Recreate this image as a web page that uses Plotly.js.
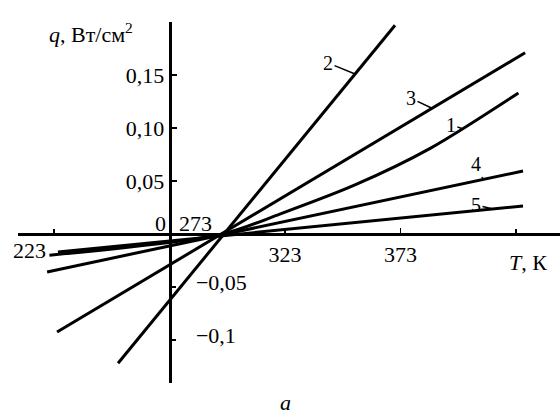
<!DOCTYPE html>
<html><head><meta charset="utf-8">
<script src="https://cdn.plot.ly/plotly-3.0.1.min.js"></script>
<style>body{margin:0;background:#fff}#chart{width:560px;height:417px}</style>
</head><body><div id="chart"></div>
<script>
// ---- data (T in K, q in W/cm^2) ----
const curveLabels = ['1', '2', '3', '4', '5'];
const line1T = [221, 296, 321, 353, 386, 424];
const line1Q = [-0.020, 0, 0.019, 0.046, 0.081, 0.133];
const line2T = [250.7, 370.6];
const line2Q = [-0.122, 0.197];
const line3T = [224.3, 426.9];
const line3Q = [-0.0925, 0.171];
const line4T = [220.0, 426.0];
const line4Q = [-0.0358, 0.0594];
const line5T = [224.7, 426.0];
const line5Q = [-0.017, 0.0264];

const xLabelTickVals = [323, 373];
const xLabelTickText = ['323', '373'];
const xBareTickVals = [223, 423];
const yPosTickVals = [0.05, 0.10, 0.15];
const yPosTickText = ['0,05', '0,10', '0,15'];
const yNegTickVals = [-0.05, -0.1];
const yNegTickText = ['\u22120,05', '\u22120,1'];

// where curve-number leaders touch each curve (T values)
const labelTipT = [399.5, 353.3, 386.6, 408.7, 413.0];
const labelDX = [-11, -27, -21, -7, -17];
const labelDY = [-4, -11, -10, -15, -4];

const xRange = [207.4, 442.0];
const yRange = [-0.1406, 0.2];
const axisT = 273;

const series = [[line1T, line1Q], [line2T, line2Q], [line3T, line3Q], [line4T, line4Q], [line5T, line5Q]];

function interp(t, xs, ys) {
  for (let i = 0; i < xs.length - 1; i++) {
    if (t >= xs[i] && t <= xs[i + 1]) {
      return ys[i] + (ys[i + 1] - ys[i]) * (t - xs[i]) / (xs[i + 1] - xs[i]);
    }
  }
  return ys[ys.length - 1];
}

const FONT = 'Liberation Serif, Times New Roman, serif';
const tf = {family: FONT, size: 22, color: '#000'};

const traces = series.map((s, i) => ({
  x: s[0], y: s[1], type: 'scatter', mode: 'lines',
  line: {color: '#000', width: 3, shape: i === 0 ? 'spline' : 'linear', smoothing: 0.8},
  hoverinfo: 'skip', showlegend: false
}));
traces.push({x: [], y: [], yaxis: 'y2', type: 'scatter', mode: 'lines', showlegend: false, hoverinfo: 'skip'});
traces.push({x: [], y: [], xaxis: 'x2', type: 'scatter', mode: 'lines', showlegend: false, hoverinfo: 'skip'});

const yAxisPos = (axisT - xRange[0]) / (xRange[1] - xRange[0]);
const xAxisPos = (0 - yRange[0]) / (yRange[1] - yRange[0]);

const annotations = curveLabels.map((lab, i) => ({
  x: labelTipT[i], y: interp(labelTipT[i], series[i][0], series[i][1]),
  xref: 'x', yref: 'y', text: lab, showarrow: true, arrowhead: 0, arrowwidth: 1.5,
  arrowcolor: '#000', ax: labelDX[i], ay: labelDY[i], standoff: 0,
  font: {family: FONT, size: 20, color: '#000'}
}));
annotations.push(
  {x: 223, y: 0, xref: 'x', yref: 'y', text: '223', showarrow: false, xshift: -25, yshift: -17,
   xanchor: 'center', yanchor: 'middle', font: tf},
  {x: 273, y: 0, xref: 'x', yref: 'y', text: '273', showarrow: false, xshift: 26, yshift: 10,
   xanchor: 'center', yanchor: 'middle', font: tf},
  {x: 273, y: 0, xref: 'x', yref: 'y', text: '0', showarrow: false, xshift: -9, yshift: 10,
   xanchor: 'center', yanchor: 'middle', font: tf},
  {x: (47 - 18) / 542, y: (383 - 33) / 361, xref: 'paper', yref: 'paper', xanchor: 'left', yanchor: 'middle',
   text: '<i>q</i>, Вт/см<sup>2</sup>', showarrow: false, font: tf},
  {x: (528 - 18) / 542, y: (383 - 262) / 361, xref: 'paper', yref: 'paper', xanchor: 'center', yanchor: 'middle',
   text: '<i>T</i>, К', showarrow: false, font: tf},
  {x: (285 - 18) / 542, y: (383 - 402) / 361, xref: 'paper', yref: 'paper', xanchor: 'center', yanchor: 'middle',
   text: '<i>а</i>', showarrow: false, font: tf}
);

const layout = {
  width: 560, height: 417,
  margin: {l: 18, r: 0, t: 22, b: 34},
  paper_bgcolor: '#fff', plot_bgcolor: 'rgba(0,0,0,0)',
  showlegend: false, hovermode: false,
  font: tf,
  xaxis: {
    range: xRange, anchor: 'free', position: xAxisPos,
    showline: true, linewidth: 3, linecolor: '#000',
    ticks: 'inside', ticklen: 5, tickwidth: 1.5, tickcolor: '#000',
    tickmode: 'array', tickvals: xLabelTickVals, ticktext: xLabelTickText,
    showgrid: false, zeroline: false, tickfont: tf
  },
  xaxis2: {
    range: xRange, anchor: 'free', position: xAxisPos, overlaying: 'x',
    showline: false, showticklabels: false,
    ticks: 'inside', ticklen: 5, tickwidth: 1.5, tickcolor: '#000',
    tickmode: 'array', tickvals: xBareTickVals,
    showgrid: false, zeroline: false
  },
  yaxis: {
    range: yRange, anchor: 'free', position: yAxisPos, side: 'left',
    showline: true, linewidth: 3, linecolor: '#000',
    ticks: 'inside', ticklen: 5, tickwidth: 1.5, tickcolor: '#000',
    tickmode: 'array', tickvals: yPosTickVals, ticktext: yPosTickText,
    showgrid: false, zeroline: false, tickfont: tf
  },
  yaxis2: {
    range: yRange, anchor: 'free', position: yAxisPos, side: 'right', overlaying: 'y',
    showline: false,
    ticks: 'outside', ticklen: 5, tickwidth: 1.5, tickcolor: '#000',
    tickmode: 'array', tickvals: yNegTickVals, ticktext: yNegTickText,
    ticklabelstandoff: 16, ticklabelshift: -5,
    showgrid: false, zeroline: false, tickfont: tf
  },
  annotations: annotations
};

Plotly.newPlot('chart', traces, layout, {displayModeBar: false, staticPlot: true});
</script>
</body></html>
